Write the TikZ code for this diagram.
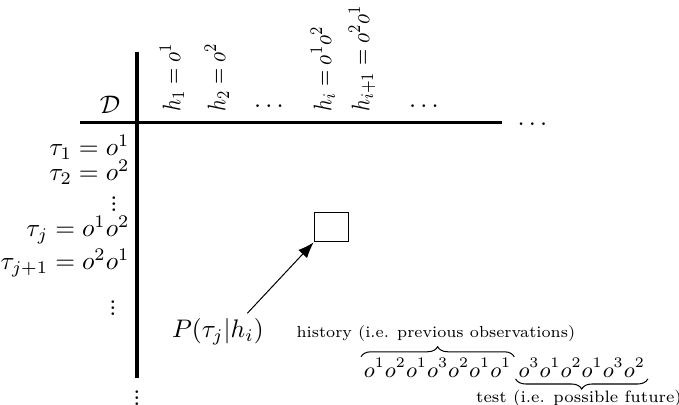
\documentclass[tikz,border=0pt]{standalone}
\usepackage{amsmath,amssymb}
\usepackage{tikz}
\usetikzlibrary{arrows.meta, positioning, calc, decorations.pathreplacing}
\newcommand{\dotcol}{\vbox{\baselineskip2.3pt\lineskiplimit0pt\hbox{.}\hbox{.}\hbox{.}}}

\begin{document}
\begin{tikzpicture}[
  axis/.style={line width=1.2pt},
  colhead/.style={rotate=90, xscale=0.82, anchor=west, inner sep=0pt},
  rowhead/.style={anchor=east, inner sep=0pt},
  seq/.style={font=\small, scale=0.96, transform shape, inner sep=1pt},
  note/.style={font=\scriptsize, transform shape, inner sep=0pt},
  brc/.style={decorate, decoration={brace, amplitude=4pt}}]
  \useasboundingbox (-1.896,-3.903) rectangle (7.502,1.702);
  % axes
  \coordinate (top) at (0,0.983);
  \coordinate (bot) at (0,-3.53);
  \coordinate (left) at (-0.789,0);
  \coordinate (right) at (5.05,0);
  \draw[axis] (top) -- (bot);
  \draw[axis] (left) -- (right);
  \node[anchor=base west, inner sep=0pt] (rdots) at (5.26,-0.03) {$\dots$};
  \node[inner sep=0pt] (bdots) at (0,-3.806) {\dotcol};
  \node (D) at (-0.374,0.249) {$\mathcal{D}$};
  % columns
  \node[colhead] (h1) at (0.484,0.15) {$h_1 = o^1$};
  \node[colhead] (h2) at (1.107,0.15) {$h_2 = o^2$};
  \node (cdots) at (1.855,0.23) {$\dots$};
  \node[colhead] (hi) at (2.574,0.15) {$h_i = o^1o^2$};
  \node[colhead] (hii) at (3.114,0.15) {$h_{i+1} = o^2o^1$};
  \node (cdotsb) at (4.0,0.23) {$\dots$};
  % rows
  \node[rowhead] (t1) at (-0.097,-0.332) {$\tau_1 = o^1$};
  \node[rowhead] (t2) at (-0.097,-0.678) {$\tau_2 = o^2$};
  \node[inner sep=0pt] (rdotsa) at (-0.318,-1.121) {\dotcol};
  \node[rowhead] (tj) at (-0.097,-1.48) {$\tau_j = o^1o^2$};
  \node[rowhead] (tjj) at (-0.097,-1.94) {$\tau_{j+1} = o^2o^1$};
  \node[inner sep=0pt] (rdotsb) at (-0.332,-2.561) {\dotcol};
  % cell
  \node[draw, thin, minimum width=0.48cm, minimum height=0.40cm, inner sep=0pt] (cell) at (2.692,-1.446) {};
  \node (P) at (1.12,-2.89) {$P(\tau_j|h_i)$};
  \draw[-{Latex[length=2.2mm]}] ($(P.north east)+(-0.35,-0.05)$) -- (cell.south west);
  % history and test
  \node[seq, anchor=west] (past) at (3.10,-3.39) {$o^1o^2o^1o^3o^2o^1o^1$};
  \node[seq, anchor=west] (fut) at (5.24,-3.39) {$o^3o^1o^2o^1o^3o^2$};
  \draw[brc] ([yshift=-0.5pt]past.north west) -- ([yshift=-0.5pt]past.north east);
  \draw[brc] ([yshift=0.5pt]fut.south east) -- ([yshift=0.5pt]fut.south west);
  \node[note, scale=0.9] (histlab) at (4.137,-2.907) {history (i.e. previous observations)};
  \node[note, scale=0.93] (testlab) at (6.118,-3.81) {test (i.e. possible future)};
\end{tikzpicture}
\end{document}
